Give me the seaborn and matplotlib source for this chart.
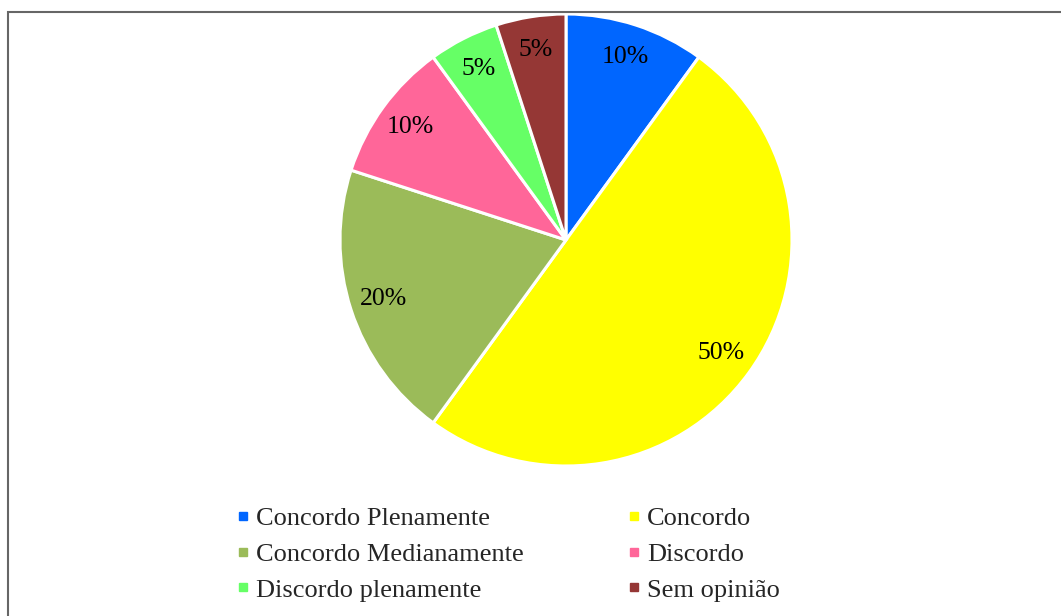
import matplotlib
matplotlib.use('Agg')
import matplotlib.pyplot as plt
import seaborn as sns
from matplotlib.lines import Line2D
from matplotlib import patches

categories = ['Concordo Plenamente', 'Concordo', 'Concordo Medianamente',
              'Discordo', 'Discordo plenamente', 'Sem opinião']
shares = [10, 50, 20, 10, 5, 5]
colors = ['#0066FF', '#FFFF00', '#9BBB59', '#FF6699', '#66FF66', '#953735']

sns.set_theme(style='white')
plt.rcParams['font.family'] = ['Liberation Serif', 'DejaVu Serif']

px = 1/100
fig = plt.figure(figsize=(1061*px, 616*px), dpi=100)
fig.patch.set_facecolor('white')

# pie axes placed so the circle sits where it does in the reference
ax = fig.add_axes([340/1061, (616-466)/616, 452/1061, 452/616])
wedges, texts, autotexts = ax.pie(
    shares, colors=colors, startangle=90, counterclock=False,
    autopct='%d%%', pctdistance=0.85,
    wedgeprops={'edgecolor': 'white', 'linewidth': 2.2},
    textprops={'fontsize': 18.5, 'color': 'black'})
ax.set_xlim(-1, 1)
ax.set_ylim(-1, 1)
ax.set_aspect('equal')
ax.axis('off')

# legend in row order: reorder for matplotlib's column filling
handles = [Line2D([0], [0], marker='s', linestyle='none', markersize=6,
                  markerfacecolor=c, markeredgecolor=c) for c in colors]
order = [0, 2, 4, 1, 3, 5]
fig.legend([handles[i] for i in order], [categories[i] for i in order],
           ncol=2, loc='center', bbox_to_anchor=(508/1061, (616-554)/616),
           frameon=False, fontsize=19, handlelength=0.5, handletextpad=0.24,
           columnspacing=3.95, labelspacing=0.47, borderpad=0)

# chart border (only left and top edges show in the crop)
border = patches.Rectangle((8/1061, -0.1), 1.2, (616-12)/616 + 0.1,
                           transform=fig.transFigure, fill=False,
                           edgecolor='#666666', linewidth=1.5)
fig.patches.append(border)

fig.savefig('out.png', dpi=100)
